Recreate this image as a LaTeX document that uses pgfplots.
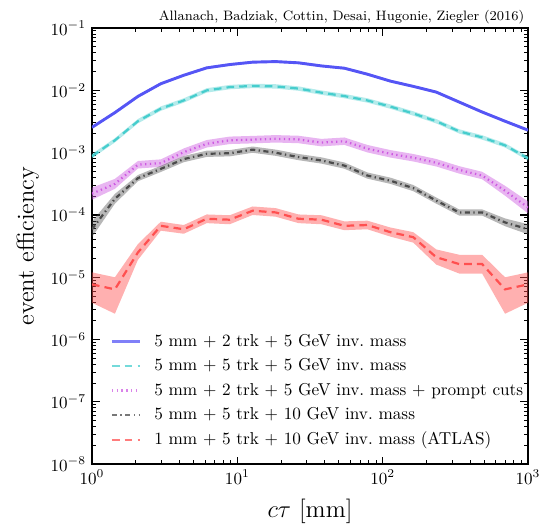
\documentclass[border=0pt]{standalone}
\usepackage{pgfplots}
\pgfplotsset{compat=1.18}
\usepackage{pgfplotstable}
\usepgfplotslibrary{fillbetween}

\definecolor{cblue}{RGB}{85,85,245}
\definecolor{ccyan}{RGB}{70,205,205}
\definecolor{cmag}{RGB}{205,90,225}
\definecolor{cgray}{RGB}{75,75,75}
\definecolor{cred}{RGB}{255,80,80}

\pgfplotstableread{
x y lo hi
1 2.55e-3 2.44e-3 2.67e-3
1.438 4.4e-3 4.20e-3 4.61e-3
2.069 8.0e-3 7.64e-3 8.38e-3
2.976 1.28e-2 1.22e-2 1.34e-2
4.281 1.75e-2 1.67e-2 1.83e-2
6.158 2.3e-2 2.20e-2 2.41e-2
8.859 2.6e-2 2.48e-2 2.72e-2
12.74 2.84e-2 2.71e-2 2.97e-2
18.33 2.9e-2 2.77e-2 3.04e-2
26.37 2.77e-2 2.65e-2 2.90e-2
37.93 2.47e-2 2.36e-2 2.59e-2
54.56 2.27e-2 2.17e-2 2.38e-2
78.48 1.82e-2 1.74e-2 1.91e-2
112.9 1.41e-2 1.35e-2 1.48e-2
162.4 1.16e-2 1.11e-2 1.21e-2
233.6 9.4e-3 8.98e-3 9.84e-3
336.0 6.5e-3 6.21e-3 6.81e-3
483.3 4.5e-3 4.30e-3 4.71e-3
695.2 3.2e-3 3.06e-3 3.35e-3
1000 2.3e-3 2.20e-3 2.41e-3
}\tblue

\pgfplotstableread{
x y lo hi
1 8.8e-4 8.11e-4 9.54e-4
1.438 1.58e-3 1.46e-3 1.71e-3
2.069 3.2e-3 2.95e-3 3.47e-3
2.976 5.1e-3 4.70e-3 5.53e-3
4.281 6.9e-3 6.36e-3 7.48e-3
6.158 1.0e-2 9.22e-3 1.084e-2
8.859 1.13e-2 1.042e-2 1.225e-2
12.74 1.18e-2 1.088e-2 1.279e-2
18.33 1.16e-2 1.070e-2 1.257e-2
26.37 1.07e-2 9.87e-3 1.160e-2
37.93 9.2e-3 8.48e-3 9.97e-3
54.56 8.1e-3 7.47e-3 8.78e-3
78.48 6.9e-3 6.36e-3 7.48e-3
112.9 5.5e-3 5.07e-3 5.96e-3
162.4 4.26e-3 3.93e-3 4.62e-3
233.6 3.2e-3 2.95e-3 3.47e-3
336.0 2.2e-3 2.03e-3 2.38e-3
483.3 1.76e-3 1.62e-3 1.91e-3
695.2 1.31e-3 1.21e-3 1.42e-3
1000 8.1e-4 7.47e-4 8.78e-4
}\tcyan

\pgfplotstableread{
x y lo hi
1 2.2e-4 1.76e-4 2.75e-4
1.438 3.16e-4 2.63e-4 3.8e-4
2.069 6.4e-4 5.57e-4 7.35e-4
2.976 6.8e-4 5.92e-4 7.81e-4
4.281 1.02e-3 8.88e-4 1.171e-3
6.158 1.39e-3 1.211e-3 1.596e-3
8.859 1.58e-3 1.376e-3 1.814e-3
12.74 1.62e-3 1.411e-3 1.860e-3
18.33 1.67e-3 1.455e-3 1.917e-3
26.37 1.63e-3 1.420e-3 1.871e-3
37.93 1.45e-3 1.263e-3 1.665e-3
54.56 1.53e-3 1.333e-3 1.756e-3
78.48 1.16e-3 1.010e-3 1.332e-3
112.9 9.6e-4 8.36e-4 1.102e-3
162.4 8.3e-4 7.23e-4 9.53e-4
233.6 6.9e-4 6.01e-4 7.92e-4
336.0 5.3e-4 4.62e-4 6.08e-4
483.3 4.3e-4 3.75e-4 4.94e-4
695.2 2.45e-4 2.04e-4 2.94e-4
1000 1.32e-4 1.06e-4 1.65e-4
}\tmag

\pgfplotstableread{
x y lo hi
1 5.9e-5 4.4e-5 7.9e-5
1.438 1.82e-4 1.52e-4 2.18e-4
2.069 3.9e-4 3.48e-4 4.38e-4
2.976 5.5e-4 4.90e-4 6.17e-4
4.281 7.9e-4 7.04e-4 8.86e-4
6.158 9.6e-4 8.56e-4 1.077e-3
8.859 9.8e-4 8.73e-4 1.100e-3
12.74 1.12e-3 9.98e-4 1.257e-3
18.33 1.0e-3 8.91e-4 1.122e-3
26.37 8.5e-4 7.58e-4 9.54e-4
37.93 7.5e-4 6.68e-4 8.42e-4
54.56 6.2e-4 5.53e-4 6.96e-4
78.48 4.3e-4 3.83e-4 4.82e-4
112.9 3.55e-4 3.16e-4 3.98e-4
162.4 2.7e-4 2.41e-4 3.03e-4
233.6 1.7e-4 1.52e-4 1.91e-4
336.0 1.1e-4 9.8e-5 1.23e-4
483.3 1.1e-4 9.8e-5 1.23e-4
695.2 7.6e-5 6.6e-5 8.8e-5
1000 5.9e-5 4.9e-5 7.1e-5
}\tgray

\pgfplotstableread{
x y lo hi
1 7.7e-6 3.9e-6 1.2e-5
1.438 6.4e-6 2.6e-6 1.0e-5
2.069 2.5e-5 1.9e-5 3.4e-5
2.976 6.7e-5 5.6e-5 7.8e-5
4.281 5.9e-5 5.0e-5 6.9e-5
6.158 8.7e-5 7.4e-5 1.02e-4
8.859 8.4e-5 7.1e-5 9.9e-5
12.74 1.17e-4 1.0e-4 1.37e-4
18.33 1.1e-4 9.4e-5 1.29e-4
26.37 8.7e-5 7.4e-5 1.02e-4
37.93 8.4e-5 7.1e-5 9.9e-5
54.56 6.7e-5 5.7e-5 7.9e-5
78.48 6.9e-5 5.9e-5 8.1e-5
112.9 5.3e-5 4.5e-5 6.3e-5
162.4 4.4e-5 3.6e-5 5.3e-5
233.6 2.1e-5 1.6e-5 2.8e-5
336.0 1.63e-5 1.15e-5 2.3e-5
483.3 1.63e-5 1.15e-5 2.3e-5
695.2 6.4e-6 2.6e-6 1.0e-5
1000 7.7e-6 3.9e-6 1.2e-5
}\tred

\newcommand{\band}[4]{%
  \addplot[name path=#2hi, draw=none, forget plot] table[x=x,y=hi]{#1};
  \addplot[name path=#2lo, draw=none, forget plot] table[x=x,y=lo]{#1};
  \addplot[fill=#3, fill opacity=#4, draw=none, forget plot] fill between[of=#2hi and #2lo];
}

\begin{document}
\begin{tikzpicture}
\begin{axis}[
  name=ax,
  xmode=log, ymode=log,
  scale only axis, width=256pt, height=256pt,
  xmin=1, xmax=1000, ymin=1e-8, ymax=1e-1,
  xtick={1,10,100,1000},
  ytick={1e-8,1e-7,1e-6,1e-5,1e-4,1e-3,1e-2,1e-1},
  tick align=inside,
  xtick pos=both, ytick pos=both,
  major tick length=4.5pt, minor tick length=2.5pt,
  axis line style={line width=0.9pt},
  every tick/.style={black, line width=0.6pt},
  tick label style={font=\fontsize{10.3}{12}\selectfont},
  xlabel={$c\tau$ [mm]},
  ylabel={event efficiency},
  label style={font=\Large},
  xlabel style={yshift=-2pt},
  legend cell align=left,
  legend style={draw=none, fill=none, at={(0.03,0.022)}, anchor=south west,
    font=\fontsize{10.1}{12}\selectfont, row sep=1.7pt, column sep=5.5pt},
  legend image code/.code={\draw[#1] (0pt,0pt) -- (16.5pt,0pt);},
  legend image post style={opacity=0.75},
]
\band{\tblue}{b}{cblue}{0.35}
\band{\tcyan}{c}{ccyan}{0.4}
\band{\tmag}{m}{cmag}{0.45}
\band{\tgray}{g}{cgray}{0.4}
\band{\tred}{r}{cred}{0.45}

\addplot[cblue, line width=1.7pt] table[x=x,y=y]{\tblue};
\addlegendentry{5 mm + 2 trk + 5 GeV inv.\ mass}
\addplot[ccyan, line width=1.3pt, dash pattern=on 4.5pt off 3pt] table[x=x,y=y]{\tcyan};
\addlegendentry{5 mm + 5 trk + 5 GeV inv.\ mass}
\addplot[cmag, line width=1.3pt, dash pattern=on 0.8pt off 2pt] table[x=x,y=y]{\tmag};
\addlegendentry{5 mm + 2 trk + 5 GeV inv.\ mass + prompt cuts}
\addplot[cgray, line width=1.3pt, dash pattern=on 3pt off 2pt on 0.8pt off 2pt] table[x=x,y=y]{\tgray};
\addlegendentry{5 mm + 5 trk + 10 GeV inv.\ mass}
\addplot[cred, line width=1.3pt, dash pattern=on 4.5pt off 3pt] table[x=x,y=y]{\tred};
\addlegendentry{1 mm + 5 trk + 10 GeV inv.\ mass (ATLAS)}
\end{axis}
\node[anchor=south east, font=\footnotesize, inner sep=2pt] at (ax.north east) {Allanach, Badziak, Cottin, Desai, Hugonie, Ziegler (2016)};
\pgfresetboundingbox
\path ([shift={(-54pt,-39.4pt)}]ax.south west) rectangle ([shift={(8.2pt,16.5pt)}]ax.north east);
\end{tikzpicture}
\end{document}
